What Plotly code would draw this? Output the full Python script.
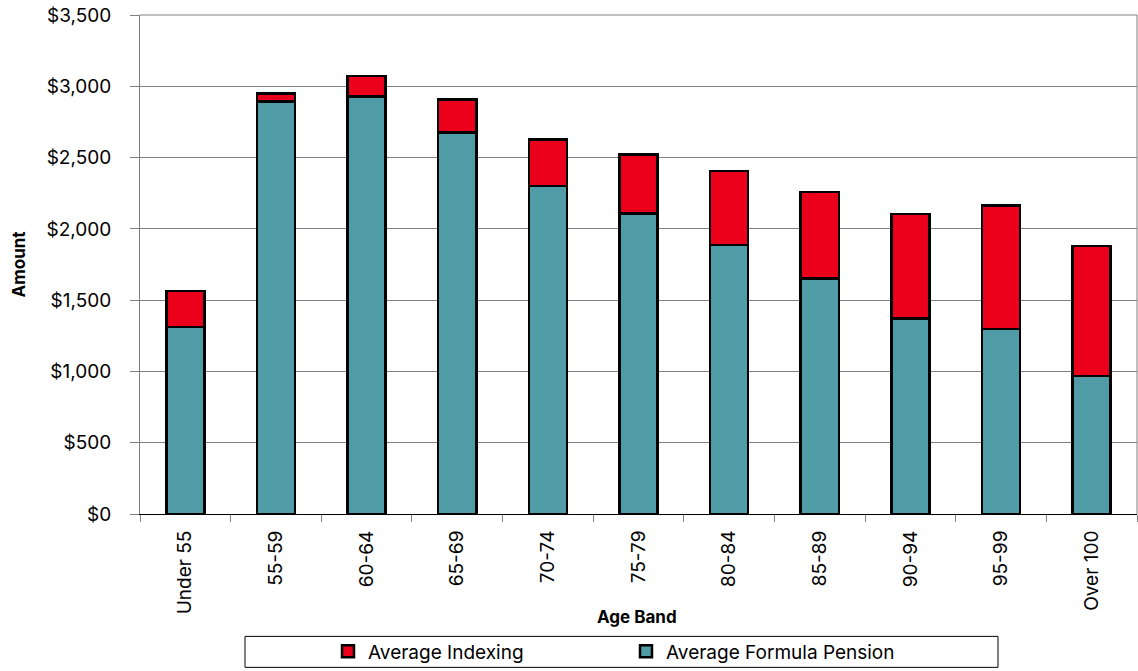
import plotly.graph_objects as go

categories = ["Under 55", "55-59", "60-64", "65-69", "70-74", "75-79",
              "80-84", "85-89", "90-94", "95-99", "Over 100"]
formula_pension = [1310, 2894, 2930, 2677, 2300, 2108, 1887, 1653, 1373, 1296, 969]
indexing = [254, 54, 142, 229, 326, 415, 518, 605, 731, 868, 911]

TEAL = "#4F9BA6"
RED = "#EB001B"
FONT = "Inter, Liberation Sans, Arial, sans-serif"

fig = go.Figure()
fig.add_trace(go.Bar(
    x=categories, y=formula_pension, name="Average Formula Pension",
    marker=dict(color=TEAL, line=dict(color="black", width=2.5)),
    legendrank=2,
))
fig.add_trace(go.Bar(
    x=categories, y=indexing, name="Average Indexing",
    marker=dict(color=RED, line=dict(color="black", width=2.5)),
    legendrank=1,
))

fig.update_layout(
    barmode="stack",
    bargap=0.58,
    width=1138, height=671,
    margin=dict(l=140, r=1, t=15, b=157),
    plot_bgcolor="white", paper_bgcolor="white",
    font=dict(family=FONT, size=19, color="black"),
    showlegend=True,
    legend=dict(
        orientation="h", traceorder="normal",
        x=(328 - 140) / 997, xanchor="left", y=-(652 - 514.5) / 499.5, yanchor="middle",
        bgcolor="rgba(0,0,0,0)", borderwidth=0,
        font=dict(size=19, family=FONT),
        itemwidth=30, entrywidth=253, entrywidthmode="pixels",
    ),
    xaxis=dict(
        tickangle=-90, ticks="outside", tickson="boundaries", ticklen=7,
        tickcolor="#808080", showline=True, linecolor="black",
        showgrid=False,
        tickfont=dict(size=19, family=FONT),
        ticklabelstandoff=8,
    ),
    yaxis=dict(
        range=[0, 3500], dtick=500, tickprefix="$", tickformat=",",
        ticks="outside", ticklen=9, tickcolor="#808080",
        showline=True, linecolor="#808080", linewidth=1,
        showgrid=True, gridcolor="#808080", gridwidth=1,
        zeroline=True, zerolinecolor="black", zerolinewidth=1,
        ticklabelstandoff=15,
        title=dict(text="<b>Amount</b>", font=dict(size=17, family=FONT), standoff=16),
        tickfont=dict(size=19, family=FONT),
    ),
    annotations=[
        dict(text="<b>Age Band</b>", xref="paper", yref="paper",
             x=(637 - 140) / 997, y=-(618 - 514.5) / 499.5,
             xanchor="center", yanchor="middle", showarrow=False,
             font=dict(size=17, family=FONT)),
    ],
    shapes=[
        dict(type="rect", xref="paper", yref="paper",
             x0=(245 - 140) / 997, x1=(998 - 140) / 997,
             y0=-(668 - 514.5) / 499.5, y1=-(637 - 514.5) / 499.5,
             line=dict(color="black", width=1), fillcolor="rgba(0,0,0,0)", layer="above"),
        dict(type="line", xref="paper", yref="paper", x0=1, x1=1, y0=0, y1=1,
             line=dict(color="#808080", width=1)),
        dict(type="line", xref="paper", yref="paper", x0=0, x1=1, y0=1, y1=1,
             line=dict(color="#808080", width=1)),
    ],
)

fig.write_html("out.html")
